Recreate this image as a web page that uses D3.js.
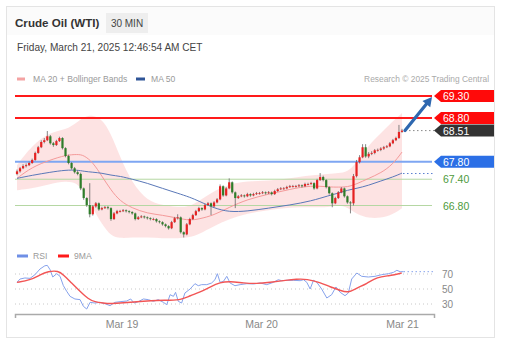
<!DOCTYPE html>
<html><head><meta charset="utf-8">
<script src="https://cdn.jsdelivr.net/npm/d3@7"></script>
<style>
html,body{margin:0;padding:0;background:#fff;}
svg{display:block;font-family:"Liberation Sans",Arial,sans-serif;}
</style></head>
<body><svg id="c" width="508" height="353"></svg>
<script>
// ---------- DATA ----------
const firstOpen = 67.52;
const closes = [67.58,67.65,67.70,67.72,67.77,67.84,68.00,68.13,68.25,68.29,
68.38,68.22,68.18,68.27,68.34,68.11,67.93,67.77,67.65,67.56,
67.52,67.19,66.97,66.81,66.60,66.78,66.85,66.71,66.74,66.76,
66.74,66.49,66.62,66.67,66.67,66.69,66.67,66.65,66.62,66.49,
66.53,66.55,66.53,66.51,66.49,66.49,66.44,66.42,66.37,66.33,
66.28,66.42,66.51,66.53,66.19,66.14,66.37,66.49,66.58,66.67,
66.74,66.71,66.81,66.85,66.78,66.87,66.94,67.24,67.03,67.19,
67.33,67.10,66.97,67.01,67.03,67.01,67.06,67.03,67.06,67.08,
67.08,67.10,67.08,67.10,67.06,67.13,67.17,67.19,67.19,67.22,
67.24,67.24,67.24,67.26,67.24,67.29,67.29,67.31,67.19,67.38,
67.45,67.38,67.22,67.08,66.85,66.97,67.10,67.19,67.01,66.87,
66.85,67.47,67.79,67.90,68.13,67.92,67.98,68.00,68.06,68.07,
68.10,68.13,68.15,68.22,68.29,68.34,68.48,68.51];
const highs = [67.62,67.68,67.74,67.76,67.80,67.87,68.03,68.16,68.29,68.34,
68.50,68.41,68.25,68.30,68.37,68.36,68.13,67.96,67.79,67.68,
67.60,67.55,67.21,66.99,67.31,66.81,66.88,66.87,66.77,66.79,
66.79,66.76,66.65,66.70,66.70,66.72,66.71,66.69,66.67,66.64,
66.56,66.58,66.57,66.55,66.53,66.52,66.51,66.46,66.44,66.39,
66.35,66.45,66.54,66.60,66.55,66.21,66.40,66.52,66.61,66.70,
66.77,66.76,66.84,66.88,66.87,66.90,66.97,67.28,67.26,67.22,
67.42,67.35,67.12,67.04,67.06,67.05,67.09,67.08,67.09,67.11,
67.11,67.13,67.12,67.13,67.12,67.16,67.20,67.22,67.22,67.25,
67.27,67.27,67.27,67.29,67.28,67.32,67.32,67.34,67.33,67.41,
67.54,67.48,67.40,67.24,67.10,67.00,67.13,67.22,67.21,67.03,
66.90,67.52,67.84,67.95,68.20,68.20,68.02,68.04,68.09,68.10,
68.13,68.16,68.18,68.25,68.32,68.37,68.64,68.55];
const lows = [67.49,67.55,67.63,67.67,67.70,67.75,67.82,67.98,68.11,68.22,
68.27,68.19,68.14,68.16,68.25,68.08,67.90,67.74,67.62,67.53,
67.49,67.15,66.93,66.77,66.53,66.57,66.75,66.68,66.69,66.72,
66.71,66.45,66.47,66.60,66.64,66.65,66.64,66.62,66.59,66.46,
66.47,66.51,66.50,66.48,66.46,66.46,66.41,66.39,66.34,66.30,
66.25,66.26,66.40,66.48,66.16,66.07,66.12,66.35,66.47,66.56,
66.65,66.68,66.69,66.79,66.58,66.76,66.85,66.92,67.00,67.01,
67.17,67.07,66.74,66.95,66.99,66.98,66.99,67.00,67.01,67.04,
67.05,67.06,67.05,67.06,67.03,67.04,67.11,67.15,67.16,67.17,
67.20,67.21,67.21,67.22,67.21,67.22,67.26,67.27,67.16,67.17,
67.36,67.35,67.19,67.05,66.76,66.83,66.95,67.08,66.98,66.84,
66.62,66.80,67.44,67.76,67.88,67.89,67.88,67.95,67.97,68.03,
68.04,68.07,68.11,68.13,68.20,68.27,68.32,68.46];

// indicator sample positions (bar index) and values
const indIdx  = [0,5,11,16,20,22,25,28,31,34,38,43,48,53,57,60,65,70,76,83,90,97,103,106,109,112,116,120,124,127];
const bbUpper = [67.72,68.18,68.48,68.52,68.71,68.82,68.87,68.77,68.45,67.90,67.31,66.90,66.81,66.76,66.78,66.90,67.13,67.29,67.36,67.36,67.42,67.49,67.52,67.54,67.56,67.77,68.18,68.45,68.73,68.91];
const bbLower = [67.15,67.19,67.29,67.36,67.31,67.10,66.74,66.37,66.10,66.05,66.07,66.07,66.05,66.05,66.07,66.14,66.33,66.49,66.62,66.69,66.76,66.76,66.76,66.81,66.76,66.60,66.51,66.51,66.60,66.74];
const ma20    = [67.42,67.68,67.84,67.95,67.97,67.95,67.79,67.47,67.15,66.90,66.74,66.62,66.58,66.51,66.46,66.49,66.58,66.76,66.94,67.06,67.17,67.26,67.22,67.22,67.22,67.29,67.42,67.54,67.74,68.02];
const ma50    = [67.42,67.49,67.56,67.61,67.61,67.58,67.56,67.54,67.49,67.47,67.40,67.31,67.19,67.08,66.99,66.90,66.74,66.65,66.67,66.74,66.81,66.90,67.03,67.08,67.15,67.19,67.26,67.36,67.45,67.54];

const rsiIdx = [0,1,2.6,4.3,5.9,7.6,9.2,10,10.9,11.8,13.1,14.2,15.3,16.4,17.5,19.1,20.8,21.9,23,24.1,25.7,27.4,29,30.7,32.3,34,36.2,37.5,38.6,40,41.7,43.3,45,46.6,48.3,49.4,50.5,51.6,52.3,53.2,54.3,55.4,57.1,58.7,59.8,60.9,62.6,64.2,65.3,66.1,67,68.1,69.2,70.3,71.9,73.6,75.8,78,80.2,82.4,84.6,86.2,87.3,89,91.2,93.4,94.5,95.6,96.7,97.8,98.9,100.5,102.2,103.8,105.2,106.6,108.2,109.3,110.4,112.1,113.7,115.9,118.1,120.3,122.5,124.2,125.3,126.4,127.5];
const rsi    = [58.9,63.3,64.7,64.2,69,76.7,81,81.5,75.8,66,70.4,66.9,54.4,46.9,40.2,36.7,35.8,26.9,23.3,32.2,31.3,32.2,30.4,27.8,32.2,33.1,34,36.7,31.3,33.1,36.7,35.8,33.6,35.8,32.2,29.1,42.4,40.2,45.6,33.6,31.3,44.7,50,57.1,54.4,55.8,55.8,58,62.4,70.4,58.9,60.2,66.9,58,54.4,55.8,57.1,56.7,58,55.8,58.9,62.4,61.1,61.6,61.6,61.1,62.4,58.9,50,61.6,58.9,50,38,42.4,52.7,45.6,41.1,44.7,63.3,71.3,66.9,66,66.9,69.1,70.4,72.2,74.9,73.1,73.1];
const maIdx9 = [0,4.3,7.6,10.3,13.6,15.3,18,20.8,23.5,25.7,28.5,30.7,34,37.3,41.7,46.1,50.5,54.3,57.1,60.4,63.7,67,70.3,74.7,79.1,83.5,87.9,92.3,95.6,100,103.3,106.6,109.3,112.1,115.4,118.7,123.1,126.9];
const rsiMA9 = [58.9,61.6,69.1,73.6,74.4,69.1,58,46.9,36.7,32.7,31.3,30.4,31.3,32.2,33.6,34.9,34.9,35.8,41.1,45.6,52.7,58.9,60.2,58,57.1,58.9,61.1,63.3,63.3,58.9,52.7,48.2,44.7,51.3,57.1,66,67.8,71.3];

const levels = [
  {v:69.30, kind:"res"}, {v:68.80, kind:"res"},
  {v:67.80, kind:"piv"}, {v:67.40, kind:"sup"}, {v:66.80, kind:"sup"}
];
const lastPrice = 68.51;
const target = 69.30;
const ma50Last = 67.53;
const rsiLast = 73.1;
const rsiTicks = [70,50,30];
const dayTicks = [34.5,80.5,127];
const dayLabels = ["Mar 19","Mar 20","Mar 21"];

// ---------- DRAW ----------
const svg = d3.select("#c");
const x = d3.scaleLinear().domain([0, closes.length-1]).range([17, 402]);
const y = d3.scaleLinear().domain([66.80, 69.30]).range([205.5, 96]);
const ry = d3.scaleLinear().domain([30, 70]).range([304, 274]);
const L = 15, R = 434;

// card
svg.append("rect").attr("x",6.5).attr("y",6.5).attr("width",488).attr("height",331)
  .attr("fill","#fff").attr("stroke","#e4e4e4");
svg.append("rect").attr("x",7).attr("y",7).attr("width",487).attr("height",28).attr("fill","#fbfbfb");

// header
svg.append("text").attr("x",15).attr("y",27).attr("font-size",11.6).attr("font-weight","bold").attr("fill","#333").text("Crude Oil (WTI)");
svg.append("rect").attr("x",106).attr("y",13).attr("width",42).attr("height",20).attr("fill","#eeeeee");
svg.append("text").attr("x",127).attr("y",27).attr("text-anchor","middle").attr("font-size",10).attr("fill","#444").text("30 MIN");
svg.append("text").attr("x",17).attr("y",51).attr("font-size",10.1).attr("fill","#444").text("Friday, March 21, 2025 12:46:54 AM CET");

// legend
svg.append("rect").attr("x",17).attr("y",77.5).attr("width",8).attr("height",3).attr("fill","#f4a3a3");
svg.append("text").attr("x",33).attr("y",82).attr("font-size",8.6).attr("fill","#9a9a9a").text("MA 20 + Bollinger Bands");
svg.append("rect").attr("x",136).attr("y",77.5).attr("width",9).attr("height",3).attr("fill","#2f5597");
svg.append("text").attr("x",151).attr("y",82).attr("font-size",8.6).attr("fill","#9a9a9a").text("MA 50");
svg.append("text").attr("x",489).attr("y",82).attr("text-anchor","end").attr("font-size",8.4).attr("fill","#aaa").text("Research © 2025 Trading Central");

// bollinger band
const ind = indIdx.map((d,i)=>({i:d, up:bbUpper[i], lo:bbLower[i], m20:ma20[i], m50:ma50[i]}));
svg.append("path").datum(ind)
  .attr("d", d3.area().curve(d3.curveBasis).x(d=>x(d.i)).y0(d=>y(d.lo)).y1(d=>y(d.up)))
  .attr("fill","#fde0e0").attr("opacity",0.9);

// level lines
const lvColor = {res:"#ff1a1a", piv:"#7ea6f2", sup:"#b5d7a3"};
const lvWidth = {res:2, piv:2, sup:1};
levels.forEach(l=>{
  svg.append("line").attr("x1",L).attr("x2",432).attr("y1",y(l.v)).attr("y2",y(l.v))
    .attr("stroke",lvColor[l.kind]).attr("stroke-width",lvWidth[l.kind]);
});

// MA lines
svg.append("path").datum(ind).attr("d", d3.line().curve(d3.curveBasis).x(d=>x(d.i)).y(d=>y(d.m20)))
  .attr("fill","none").attr("stroke","#f49a9a").attr("stroke-width",1);
svg.append("path").datum(ind).attr("d", d3.line().curve(d3.curveBasis).x(d=>x(d.i)).y(d=>y(d.m50)))
  .attr("fill","none").attr("stroke","#5a78b8").attr("stroke-width",1);
svg.append("line").attr("x1",x(closes.length-1)+1).attr("x2",R).attr("y1",y(ma50Last)).attr("y2",y(ma50Last))
  .attr("stroke","#5a7fd0").attr("stroke-width",1).attr("stroke-dasharray","1.5,2.5");

// candles
const bars = closes.map((c,i)=>({i, o: i===0?firstOpen:closes[i-1], c, h:highs[i], l:lows[i]}));
const g = svg.append("g");
g.selectAll("line.w").data(bars).join("line")
  .attr("x1",d=>x(d.i)).attr("x2",d=>x(d.i)).attr("y1",d=>y(d.h)).attr("y2",d=>y(d.l))
  .attr("stroke","#666").attr("stroke-width",0.8);
g.selectAll("rect").data(bars).join("rect")
  .attr("x",d=>x(d.i)-1.1).attr("width",2.2)
  .attr("y",d=>y(Math.max(d.o,d.c)))
  .attr("height",d=>Math.max(0.8, Math.abs(y(d.o)-y(d.c))))
  .attr("fill",d=>d.c>=d.o?"#e52222":"#2f7d2a");

// last price dotted
svg.append("line").attr("x1",x(closes.length-1)+3).attr("x2",R).attr("y1",y(lastPrice)).attr("y2",y(lastPrice))
  .attr("stroke","#888").attr("stroke-width",1).attr("stroke-dasharray","1.5,2.5");

// arrow
const ax1 = x(closes.length-1)+3, ay1 = y(lastPrice), ax2 = 432, ay2 = y(target)+1;
const ang = Math.atan2(ay2-ay1, ax2-ax1);
svg.append("line").attr("x1",ax1).attr("y1",ay1).attr("x2",ax2-7*Math.cos(ang)).attr("y2",ay2-7*Math.sin(ang))
  .attr("stroke","#2e68b0").attr("stroke-width",3.2).attr("stroke-linecap","round");
const hx = ax2, hy = ay2, bl = 9, bw = 5;
const bx = hx - bl*Math.cos(ang), by = hy - bl*Math.sin(ang);
svg.append("path").attr("d",`M${hx},${hy}L${bx+bw*Math.sin(ang)},${by-bw*Math.cos(ang)}L${bx-bw*Math.sin(ang)},${by+bw*Math.cos(ang)}Z`)
  .attr("fill","#2e68b0");

// labels
function tag(v, fill, txt, col){
  const yy = y(v);
  if(fill){
    svg.append("path").attr("d",`M${R},${yy}L${R+7},${yy-6}L494,${yy-6}L494,${yy+6}L${R+7},${yy+6}Z`).attr("fill",fill);
  }
  svg.append("text").attr("x",R+9).attr("y",yy+4).attr("font-size",10.5).attr("fill",col).text(txt);
}
levels.forEach(l=>{
  if(l.kind==="res") tag(l.v,"#ff0a0a",l.v.toFixed(2),"#fff");
  else if(l.kind==="piv") tag(l.v,"#2b6fe6",l.v.toFixed(2),"#fff");
  else tag(l.v,null,l.v.toFixed(2),"#4e9a3c");
});
tag(lastPrice,"#333333",lastPrice.toFixed(2),"#fff");

// ---------- RSI panel ----------
svg.append("rect").attr("x",17).attr("y",254.5).attr("width",11).attr("height",3).attr("fill","#6f8fe6");
svg.append("text").attr("x",33).attr("y",259).attr("font-size",8.6).attr("fill","#9a9a9a").text("RSI");
svg.append("rect").attr("x",58).attr("y",254.5).attr("width",11).attr("height",3).attr("fill","#ff1a1a");
svg.append("text").attr("x",74).attr("y",259).attr("font-size",8.6).attr("fill","#9a9a9a").text("9MA");

rsiTicks.forEach(t=>{
  svg.append("line").attr("x1",L).attr("x2",R).attr("y1",ry(t)).attr("y2",ry(t))
    .attr("stroke","#c8c8c8").attr("stroke-width",1).attr("stroke-dasharray","1,3");
  svg.append("text").attr("x",442).attr("y",ry(t)+4).attr("font-size",10).attr("fill","#888").text(t);
});
const rsiPts = rsiIdx.map((d,i)=>[d, rsi[i]]);
svg.append("path").datum(rsiPts).attr("d", d3.line().x(d=>x(d[0])).y(d=>ry(d[1])))
  .attr("fill","none").attr("stroke","#86a2ec").attr("stroke-width",1);
svg.append("line").attr("x1",x(127.5)).attr("x2",R).attr("y1",ry(rsiLast)).attr("y2",ry(rsiLast))
  .attr("stroke","#86a2ec").attr("stroke-width",1).attr("stroke-dasharray","1.5,2.5");
const maPts = maIdx9.map((d,i)=>[d, rsiMA9[i]]);
svg.append("path").datum(maPts).attr("d", d3.line().curve(d3.curveBasis).x(d=>x(d[0])).y(d=>ry(d[1])))
  .attr("fill","none").attr("stroke","#f25555").attr("stroke-width",1.4);

// time axis
const xa = x.copy().domain([x.invert(L), x.invert(R)]).range([L, R]);
const axis = svg.append("g").attr("transform","translate(0,314)")
  .call(d3.axisBottom(xa).tickValues(dayTicks).tickFormat((d,i)=>dayLabels[i]).tickSizeInner(0).tickSizeOuter(4).tickPadding(7));
axis.select(".domain").attr("stroke","#aaa").attr("stroke-width",1.5);
axis.selectAll("text").attr("font-size",10.5).attr("fill","#888").attr("font-family","Liberation Sans, Arial, sans-serif");
</script></body></html>
